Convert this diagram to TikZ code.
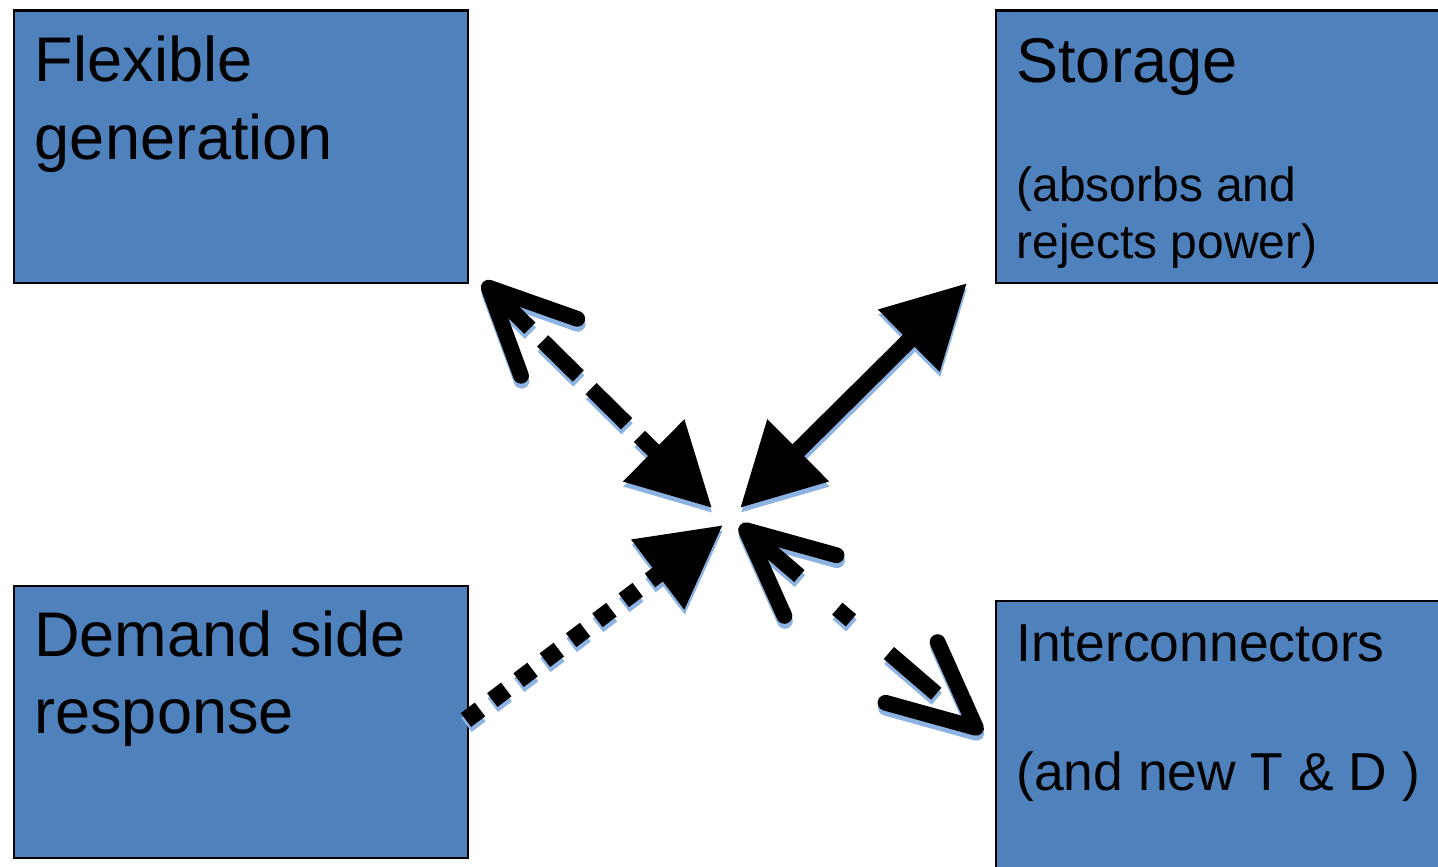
\documentclass[tikz,border=0pt]{standalone}
\usepackage{fontspec}
\setmainfont{Liberation Sans}
\usetikzlibrary{arrows.meta}
\definecolor{boxblue}{HTML}{4F81BD}
\definecolor{shadowblue}{HTML}{8DB3E2}
\tikzset{
  openhead/.tip={Straight Barb[round, length=1.7cm, width=1.6cm]},
  fullhead/.tip={Triangle[length=1.64cm, width=1.66cm]}
}

\begin{document}
\begin{tikzpicture}[box/.style={draw, line width=1.3pt, fill=boxblue, anchor=north west, inner sep=0pt},
  bigtxt/.style={anchor=base west, inner sep=0pt, font=\fontsize{35.9}{43}\selectfont},
  smalltxt/.style={anchor=base west, inner sep=0pt, font=\fontsize{27.3}{33}\selectfont},
  midtxt/.style={anchor=base west, inner sep=0pt, font=\fontsize{30.4}{36}\selectfont},
  dashflow/.style={openhead-fullhead, line width=9pt, dash pattern=on 1cm off 0.36cm},
  solidflow/.style={fullhead-fullhead, line width=9.5pt},
  dotflow/.style={-fullhead, line width=9.8pt, dash pattern=on 0.35cm off 0.31cm},
  dashdotflow/.style={openhead-openhead, line width=9pt, dash pattern=on 1.25cm off 1cm on 0.36cm off 1cm},
  shade/.style={draw=shadowblue, transform canvas={shift={(0.01,-0.1)}}}]

\useasboundingbox (0,0) rectangle (28.76,-17.32);

% the four boxes
\node [box, minimum width=9.09cm, minimum height=5.45cm] (flex) at (0.25,-0.19) {};
\node [box, minimum width=9.5cm, minimum height=5.45cm] (store) at (19.9,-0.19) {};
\node [box, minimum width=9.09cm, minimum height=5.44cm] (demand) at (0.25,-11.69) {};
\node [box, minimum width=9.5cm, minimum height=6cm] (inter) at (19.9,-11.99) {};

% box texts
\node [bigtxt] (flexA) at (0.69,-1.634) {Flexible};
\node [bigtxt] (flexB) at (0.69,-3.186) {generation};
\node [bigtxt] (storeA) at (20.32,-1.654) {Storage};
\node [smalltxt] (storeB) at (20.32,-4.034) {(absorbs and};
\node [smalltxt] (storeC) at (20.32,-5.166) {rejects power)};
\node [bigtxt] (demandA) at (0.68,-13.12) {Demand side};
\node [bigtxt] (demandB) at (0.68,-14.667) {response};
\node [midtxt] (interA) at (20.32,-13.234) {Interconnectors};
\node [midtxt] (interB) at (20.32,-15.8) {(and new T \& D )};

% arrow ends round the middle
\coordinate (g1) at (9.66,-5.64);
\coordinate (g2) at (14.24,-10.16);
\coordinate (s1) at (14.80,-10.16);
\coordinate (s2) at (19.34,-5.66);
\coordinate (d1) at (9.32,-14.40);
\coordinate (d2) at (14.46,-10.50);
\coordinate (i1) at (14.80,-10.50);
\coordinate (i2) at (19.64,-14.66);

%% shadows first
\draw [dashflow, shade] (g1) -- (g2);
\draw [solidflow, shade] (s1) -- (s2);
\draw [dotflow, shade] (d1) -- (d2);
\draw [dashdotflow, shade] (i1) -- (i2);
%% then the arrows
\draw [dashflow] (g1) -- (g2);
\draw [solidflow] (s1) -- (s2);
\draw [dotflow] (d1) -- (d2);
\draw [dashdotflow] (i1) -- (i2);
\end{tikzpicture}
\end{document}
